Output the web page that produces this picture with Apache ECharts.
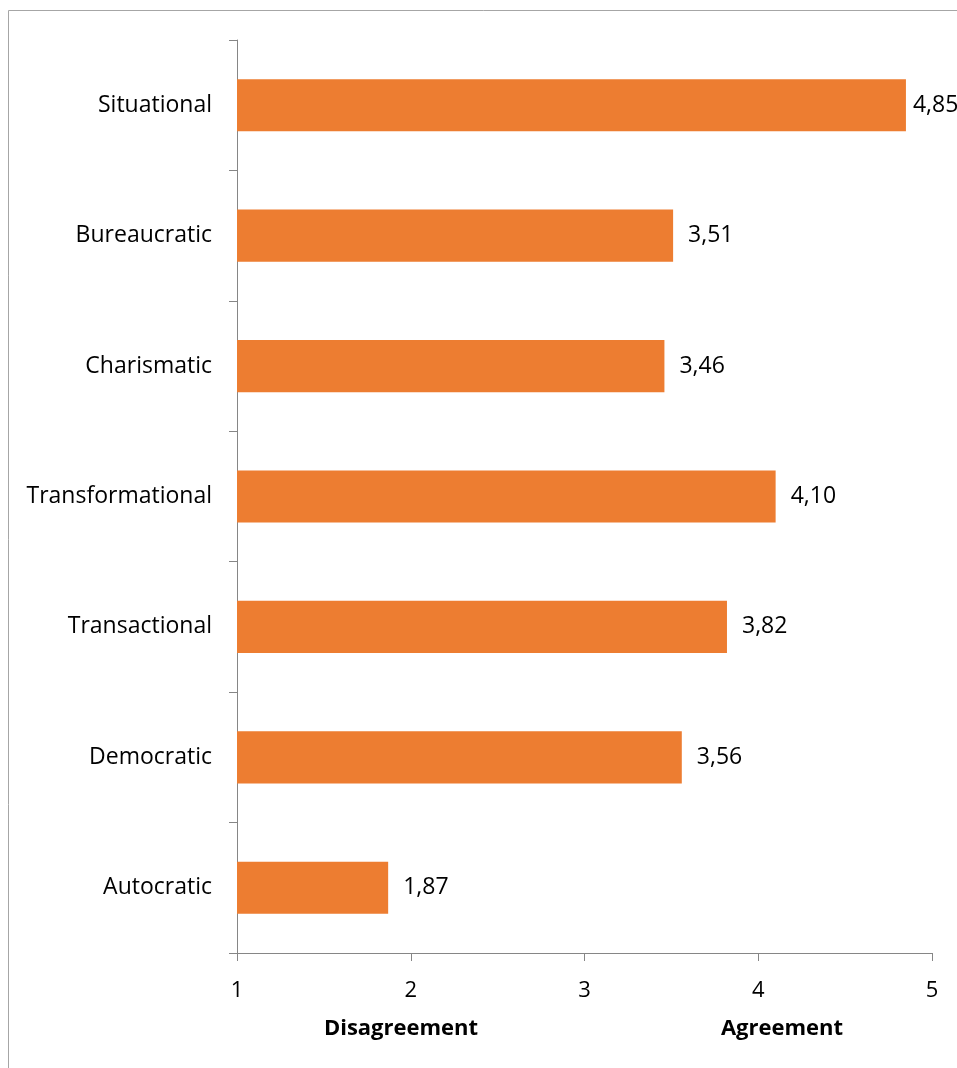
<!DOCTYPE html>
<html>
<head>
<meta charset="utf-8">
<script src="https://cdn.jsdelivr.net/npm/echarts@6/dist/echarts.min.js"></script>
<style>
  html, body { margin: 0; padding: 0; background: #fff; }
  #chart { width: 957px; height: 1068px; }
</style>
</head>
<body>
<div id="chart"></div>
<script>
// Leadership styles, top to bottom
const categories = ['Situational', 'Bureaucratic', 'Charismatic', 'Transformational', 'Transactional', 'Democratic', 'Autocratic'];
// Mean score per style (1 = disagreement, 5 = agreement)
const scores = [4.85, 3.51, 3.46, 4.10, 3.82, 3.56, 1.87];
const scaleMin = 1;
const scaleMax = 5;
const scaleNames = ['Disagreement', 'Agreement'];

const font = '"Open Sans", "Noto Sans", sans-serif';
const axisGray = '#868686';

const chart = echarts.init(document.getElementById('chart'));

chart.setOption({
  animation: false,
  grid: { left: 237, right: 25, top: 40, bottom: 115, containLabel: false },
  xAxis: {
    type: 'value',
    min: scaleMin,
    max: scaleMax,
    interval: 1,
    splitLine: { show: false },
    axisLine: { show: true, lineStyle: { color: axisGray, width: 1 } },
    axisTick: { show: true, length: 8, lineStyle: { color: axisGray } },
    axisLabel: { color: '#000', fontFamily: font, fontSize: 22, margin: 27 }
  },
  yAxis: {
    type: 'category',
    data: categories,
    inverse: true,
    axisLine: { show: true, lineStyle: { color: axisGray, width: 1 } },
    axisTick: { show: true, length: 8, lineStyle: { color: axisGray } },
    axisLabel: { color: '#000', fontFamily: font, fontSize: 23, margin: 25 }
  },
  series: [{
    type: 'bar',
    data: scores.map((v, i) => i === 0
      ? { value: v, label: { distance: 7 } }
      : v),
    barCategoryGap: '60%',
    itemStyle: { color: '#ED7D31' },
    label: {
      show: true,
      position: 'right',
      distance: 15,
      color: '#000',
      fontFamily: font,
      fontSize: 23,
      formatter: p => p.value.toFixed(2).replace('.', ',')
    }
  }],
  graphic: [
    {
      type: 'rect',
      shape: { x: 8.5, y: 10.5, width: 1000, height: 1100 },
      style: { fill: 'none', stroke: '#A6A6A6', lineWidth: 1 },
      silent: true
    },
    {
      type: 'text',
      x: 401, y: 1029,
      style: { text: scaleNames[0], font: 'bold 22px ' + font, fill: '#000', textAlign: 'center', textVerticalAlign: 'middle' }
    },
    {
      type: 'text',
      x: 782, y: 1029,
      style: { text: scaleNames[1], font: 'bold 22px ' + font, fill: '#000', textAlign: 'center', textVerticalAlign: 'middle' }
    }
  ]
});
</script>
</body>
</html>
